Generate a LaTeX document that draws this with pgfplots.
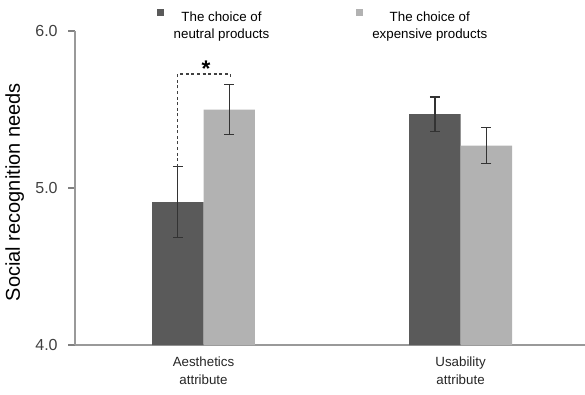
\documentclass[border=0pt]{standalone}
\usepackage{fontspec}
\setmainfont{Liberation Sans}
\usepackage{pgfplots}
\pgfplotsset{compat=1.18}
\definecolor{darkbar}{HTML}{5A5A5A}
\definecolor{lightbar}{HTML}{B2B2B2}
\definecolor{axisgray}{HTML}{999999}
\definecolor{errcol}{HTML}{333333}
\begin{document}
\begin{tikzpicture}
\begin{axis}[
  name=ax,
  clip=false,
  scale only axis,
  width=382.5pt, height=235.5pt,
  xmin=-0.5, xmax=1.484,
  ymin=4, ymax=6,
  axis x line*=bottom, axis y line*=left,
  axis line style={axisgray, line width=1pt},
  tick align=outside,
  xtick={0,1},
  xticklabels={Aesthetics\\attribute, Usability\\attribute},
  xticklabel style={align=center, font=\fontsize{10}{14}\selectfont, text=black!85},
  major x tick style={draw=none},
  ytick={4,5,6},
  major y tick style={draw=black!50, line width=1pt},
  major tick length=5pt,
  /pgf/number format/assume math mode=true,
  yticklabel style={/pgf/number format/.cd, fixed, fixed zerofill, precision=1, /tikz/.cd, font=\fontsize{12}{13}\selectfont, text=black!75, xshift=-4.5pt},
  ylabel={Social recognition needs},
  ylabel style={font=\fontsize{15}{16}\selectfont, at={(axis description cs:-0.118,0.487)}, anchor=center},
  ybar, bar width=0.2,
  legend image code/.code={\fill[#1] (0pt,0pt) rectangle (5.25pt,5.25pt);},
  legend columns=2,
  legend style={draw=none, fill=none, at={(rel axis cs:0.161,1.08)}, anchor=north west,
    font=\fontsize{10}{12.8}\selectfont, inner sep=0pt,
    /tikz/every odd column/.append style={column sep=4.5pt},
    /tikz/every even column/.append style={column sep=62.5pt},
    nodes={inner sep=2.5pt}},
  error bars/y dir=both, error bars/y explicit,
  error bars/error bar style={errcol, line width=1pt},
  error bars/error mark options={errcol, line width=1pt, mark size=3.75pt, rotate=90},
]
\addplot[fill=darkbar, draw=none, bar shift=-0.1] coordinates {(0,4.91) +- (0,0.225) (1,5.47) +- (0,0.11)};
\addlegendentry{\begin{tabular}[t]{@{}c@{}}The choice of\\neutral products\end{tabular}}
\addplot[fill=lightbar, draw=none, bar shift=0.1] coordinates {(0,5.50) +- (0,0.16) (1,5.27) +- (0,0.115)};
\addlegendentry{\begin{tabular}[t]{@{}c@{}}The choice of\\expensive products\end{tabular}}
\addplot[sharp plot, no marks, draw=black!75, line width=0.9pt, dash pattern=on 2.2pt off 2pt, forget plot, error bars/y dir=none] coordinates {(-0.1,5.135) (-0.1,5.726) (0.105,5.726) (0.105,5.705)};
\node[font=\fontsize{17}{17}\selectfont\bfseries, yshift=-3.5pt] at (axis cs:0.01,5.79) {*};
\end{axis}
\pgfresetboundingbox
\path[use as bounding box] ([xshift=-56.25pt,yshift=-36.75pt]ax.south west) rectangle ([xshift=382.5pt,yshift=258.75pt]ax.south west);
\end{tikzpicture}
\end{document}
